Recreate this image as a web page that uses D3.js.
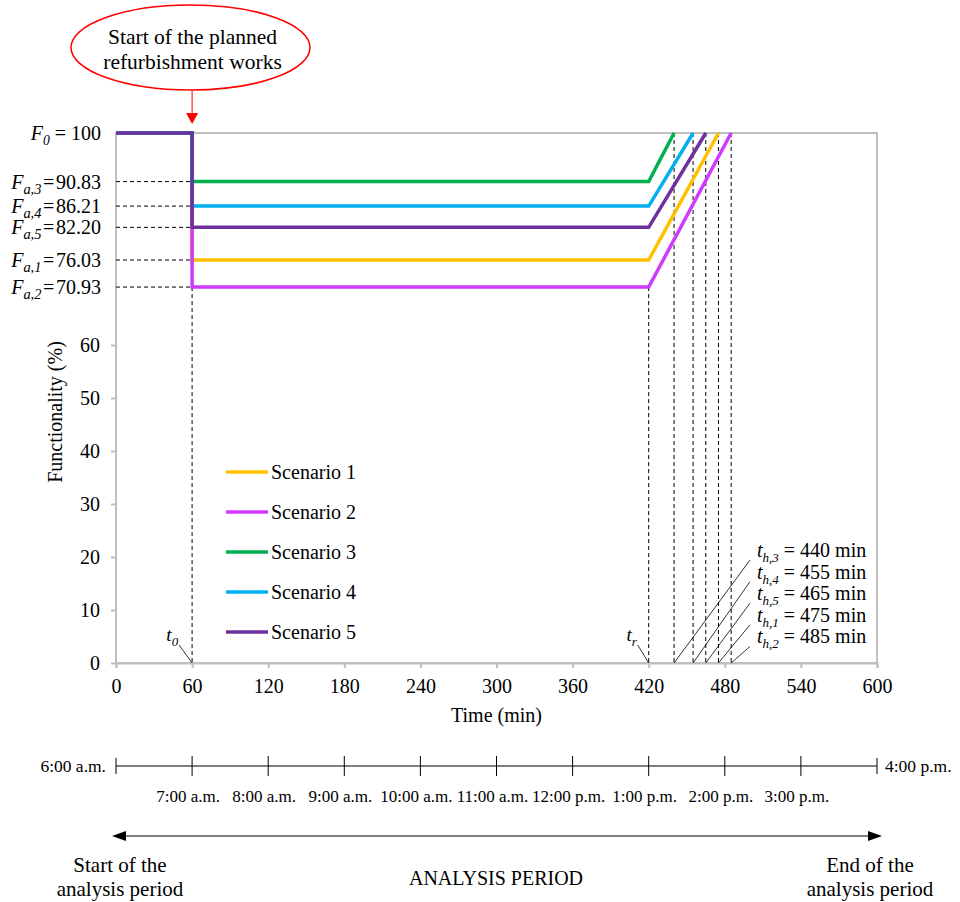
<!DOCTYPE html>
<html><head><meta charset="utf-8">
<script src="https://cdn.jsdelivr.net/npm/d3@7"></script>
<style>body{margin:0;background:#fff}svg{display:block;font-family:"Liberation Serif","Times New Roman",serif}</style>
</head><body><svg id="c" width="960" height="902"></svg>
<script>
const scenarios = ["Scenario 1","Scenario 2","Scenario 3","Scenario 4","Scenario 5"];
const scenarioIds = ["1","2","3","4","5"];
const colors = ["#FFC000","#D03AFF","#00B050","#00B0F0","#7030A0"];
const F0 = 100;
const t0 = 60;
const tr = 420;
const Fa = [76.03, 70.93, 90.83, 86.21, 82.20];
const th = [475, 485, 440, 455, 465];
const xTicks = [0,60,120,180,240,300,360,420,480,540,600];
const yTicks = [0,10,20,30,40,50,60];
const clockTicks = [0,60,120,180,240,300,360,420,480,540,600];
const clockLabels = ["6:00 a.m.","7:00 a.m.","8:00 a.m.","9:00 a.m.","10:00 a.m.","11:00 a.m.","12:00 p.m.","1:00 p.m.","2:00 p.m.","3:00 p.m.","4:00 p.m."];
const labelOrder = [2,3,4,0,1]; // order of F / t_h labels top to bottom

const svg = d3.select("#c");
const x = d3.scaleLinear().domain([0,600]).range([116,877]);
const y = d3.scaleLinear().domain([0,100]).range([663,133]);
const grey = "#BFBFBF";

// frame
svg.append("rect").attr("x",x(0)).attr("y",y(100)).attr("width",x(600)-x(0)).attr("height",y(0)-y(100))
  .attr("fill","none").attr("stroke",grey).attr("stroke-width",2);

// axes
const xa = svg.append("g").attr("transform",`translate(0,${y(0)})`)
  .call(d3.axisBottom(x).tickValues(xTicks).tickSize(5).tickPadding(11));
xa.select(".domain").attr("stroke",grey).attr("stroke-width",2);
xa.selectAll(".tick line").attr("stroke",grey).attr("stroke-width",2);
xa.selectAll("text").attr("font-size",20).attr("font-family","Liberation Serif").attr("fill","#000");
const ya = svg.append("g").attr("transform",`translate(${x(0)},0)`)
  .call(d3.axisLeft(y).tickValues(yTicks).tickSize(5).tickPadding(11));
ya.select(".domain").remove();
ya.selectAll(".tick line").attr("stroke",grey).attr("stroke-width",2);
ya.selectAll("text").attr("font-size",20).attr("font-family","Liberation Serif").attr("fill","#000");

svg.append("text").attr("x",x(300)).attr("y",722).attr("text-anchor","middle").attr("font-size",20).text("Time (min)");
svg.append("text").attr("transform",`translate(62,412) rotate(-90)`).attr("text-anchor","middle").attr("font-size",20).text("Functionality (%)");

// dashed guides
const dash = "4,3";
Fa.forEach(v=>{
  svg.append("line").attr("x1",x(0)).attr("x2",x(t0)).attr("y1",y(v)).attr("y2",y(v))
    .attr("stroke","#000").attr("stroke-width",1).attr("stroke-dasharray",dash);
});
const minFa = d3.min(Fa);
[t0,tr].forEach(t=>{
  svg.append("line").attr("x1",x(t)).attr("x2",x(t)).attr("y1",y(minFa)).attr("y2",y(0))
    .attr("stroke","#000").attr("stroke-width",1).attr("stroke-dasharray",dash);
});
th.forEach(t=>{
  svg.append("line").attr("x1",x(t)).attr("x2",x(t)).attr("y1",y(F0)).attr("y2",y(0))
    .attr("stroke","#000").attr("stroke-width",1).attr("stroke-dasharray",dash);
});

// scenario lines
const line = d3.line().x(d=>x(d[0])).y(d=>y(d[1]));
Fa.forEach((v,i)=>{
  const pts = [[0,F0],[t0,F0],[t0,v],[tr,v],[th[i],F0]];
  svg.append("path").attr("d",line(pts)).attr("fill","none").attr("stroke",colors[i])
    .attr("stroke-width",3.5).attr("stroke-linejoin","miter");
});

// labels with subscripts
function subLabel(g, xx, yy, main, sub, rest, anchor, size, subScale){
  const s = subScale || 0.68;
  const t = g.append("text").attr("x",xx).attr("y",yy).attr("text-anchor",anchor).attr("font-size",size);
  t.append("tspan").attr("font-style","italic").text(main);
  t.append("tspan").attr("font-size",size*s).attr("dy",size*0.25).attr("font-style","italic").text(sub);
  t.append("tspan").attr("dy",-size*0.25).text(rest);
  return t;
}
subLabel(svg,101,y(F0)+7,"F","0"," = 100","end",20);
labelOrder.forEach(i=>{
  subLabel(svg,101,y(Fa[i])+7,"F","a,"+scenarioIds[i],"\u200A=\u200A"+Fa[i].toFixed(2),"end",20,0.72);
});

// t0, tr leaders
function leader(t, dx, lbl, sub){
  svg.append("line").attr("x1",x(t)).attr("y1",y(0)).attr("x2",x(t)+dx).attr("y2",y(0)-18)
    .attr("stroke","#000").attr("stroke-width",0.8);
  subLabel(svg,x(t)+dx-1,y(0)-22,lbl,sub,"","end",19);
}
leader(t0,-13,"t","0");
leader(tr,-11,"t","r");

// t_h labels
labelOrder.forEach((i,k)=>{
  const ly = 557 + k*21.6;
  svg.append("line").attr("x1",x(th[i])).attr("y1",y(0)).attr("x2",750).attr("y2",ly+3)
    .attr("stroke","#000").attr("stroke-width",0.8);
  subLabel(svg,757,ly,"t","h,"+scenarioIds[i]," = "+th[i]+" min","start",20,0.65);
});

// legend
scenarios.forEach((s,i)=>{
  const ly = 472 + i*40;
  svg.append("line").attr("x1",226).attr("x2",268).attr("y1",ly).attr("y2",ly)
    .attr("stroke",colors[i]).attr("stroke-width",3.5);
  svg.append("text").attr("x",271).attr("y",ly+7).attr("font-size",20).text(s);
});

// annotation ellipse
svg.append("ellipse").attr("cx",190.5).attr("cy",47.5).attr("rx",119.5).attr("ry",42.5)
  .attr("fill","#fff").attr("stroke","#FF0000").attr("stroke-width",1.5);
svg.append("text").attr("x",192.5).attr("y",44).attr("text-anchor","middle").attr("font-size",21.5).text("Start of the planned");
svg.append("text").attr("x",192.5).attr("y",69).attr("text-anchor","middle").attr("font-size",21.5).text("refurbishment works");
svg.append("line").attr("x1",x(t0)).attr("x2",x(t0)).attr("y1",91).attr("y2",114).attr("stroke","#FF0000").attr("stroke-width",1);
svg.append("path").attr("d",`M${x(t0)-6},113 L${x(t0)+6},113 L${x(t0)},124 Z`).attr("fill","#FF0000");

// clock axis
const cy = 766;
svg.append("line").attr("x1",x(0)).attr("x2",x(600)).attr("y1",cy).attr("y2",cy).attr("stroke","#000").attr("stroke-width",1);
clockTicks.forEach((t,i)=>{
  const end = (i===0||i===clockTicks.length-1);
  svg.append("line").attr("x1",x(t)).attr("x2",x(t)).attr("y1",end?cy-8:cy-10).attr("y2",end?cy+8:cy+10)
    .attr("stroke","#000").attr("stroke-width",1);
  if(i===0){
    svg.append("text").attr("x",x(t)-10).attr("y",cy+6).attr("text-anchor","end").attr("font-size",17.5).text(clockLabels[i]);
  } else if(i===clockTicks.length-1){
    svg.append("text").attr("x",x(t)+8).attr("y",cy+6).attr("text-anchor","start").attr("font-size",17.5).text(clockLabels[i]);
  } else {
    svg.append("text").attr("x",x(t)-4).attr("y",802).attr("text-anchor","middle").attr("font-size",17).text(clockLabels[i]);
  }
});

// analysis period arrow
const ay = 836;
svg.append("line").attr("x1",x(0)+8).attr("x2",x(600)-4).attr("y1",ay).attr("y2",ay).attr("stroke","#000").attr("stroke-width",1.2);
svg.append("path").attr("d",`M${x(0)-4},${ay} L${x(0)+10},${ay-5} L${x(0)+10},${ay+5} Z`).attr("fill","#000");
svg.append("path").attr("d",`M${x(600)+5},${ay} L${x(600)-9},${ay-5} L${x(600)-9},${ay+5} Z`).attr("fill","#000");

svg.append("text").attr("x",120).attr("y",872).attr("text-anchor","middle").attr("font-size",21).text("Start of the");
svg.append("text").attr("x",120).attr("y",896).attr("text-anchor","middle").attr("font-size",21).text("analysis period");
svg.append("text").attr("x",496).attr("y",885).attr("text-anchor","middle").attr("font-size",20).text("ANALYSIS PERIOD");
svg.append("text").attr("x",870).attr("y",872).attr("text-anchor","middle").attr("font-size",21).text("End of the");
svg.append("text").attr("x",870).attr("y",896).attr("text-anchor","middle").attr("font-size",21).text("analysis period");
</script></body></html>
